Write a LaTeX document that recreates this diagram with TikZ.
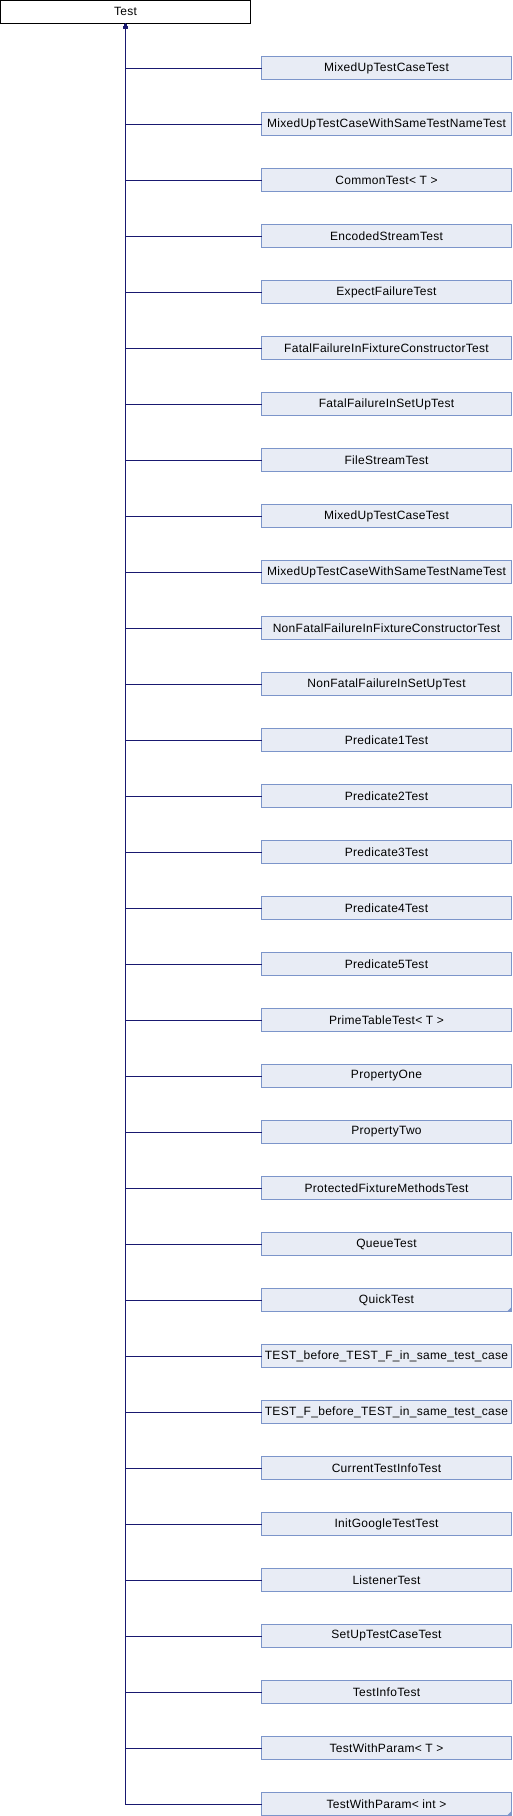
\documentclass[tikz,border=0pt]{standalone}
\usepackage{fontspec}
\setmainfont[LetterSpace=2.5]{Liberation Sans}
\usepackage{tikz}
\usetikzlibrary{positioning, arrows.meta}

\definecolor{boxfill}{HTML}{E8ECF5}
\definecolor{boxline}{HTML}{7C95CA}
\definecolor{edgeblue}{HTML}{191970}

\begin{document}
\begin{tikzpicture}[
    node distance=33pt,
    box/.style={rectangle, draw, line width=1pt, minimum width=250pt, minimum height=23pt, inner sep=0pt, outer sep=0pt, font=\fontsize{12pt}{14pt}\selectfont},
    root/.style={box, draw=black, fill=white},
    derived/.style={box, draw=boxline, fill=boxfill},
    arrow/.style={-{Triangle[length=5pt, width=4.5pt]}, line width=1pt, draw=edgeblue},
    fold/.style={fill=boxline}
]
\useasboundingbox (0,0) rectangle (512pt,-1816pt);

\node[root] (test) at (125.5pt,-11.5pt) {Test};

\node[derived] (mixedup) at (386.5pt,-68pt) {MixedUpTestCaseTest};
\node[derived] (mixedupsame) [below=of mixedup] {MixedUpTestCaseWithSameTestNameTest};
\node[derived] (common) [below=of mixedupsame] {CommonTest< T >};
\node[derived] (encoded) [below=of common] {EncodedStreamTest};
\node[derived] (expectfail) [below=of encoded] {ExpectFailureTest};
\node[derived] (fatalctor) [below=of expectfail] {FatalFailureInFixtureConstructorTest};
\node[derived] (fatalsetup) [below=of fatalctor] {FatalFailureInSetUpTest};
\node[derived] (filestream) [below=of fatalsetup] {FileStreamTest};
\node[derived] (mixedupb) [below=of filestream] {MixedUpTestCaseTest};
\node[derived] (mixedupsameb) [below=of mixedupb] {MixedUpTestCaseWithSameTestNameTest};
\node[derived] (nonfatalctor) [below=of mixedupsameb] {NonFatalFailureInFixtureConstructorTest};
\node[derived] (nonfatalsetup) [below=of nonfatalctor] {NonFatalFailureInSetUpTest};
\node[derived] (predone) [below=of nonfatalsetup] {Predicate1Test};
\node[derived] (predtwo) [below=of predone] {Predicate2Test};
\node[derived] (predthree) [below=of predtwo] {Predicate3Test};
\node[derived] (predfour) [below=of predthree] {Predicate4Test};
\node[derived] (predfive) [below=of predfour] {Predicate5Test};
\node[derived] (primetable) [below=of predfive] {PrimeTableTest< T >};
\node[derived] (propone) [below=of primetable] {PropertyOne};
\node[derived] (proptwo) [below=of propone] {PropertyTwo};
\node[derived] (protected) [below=of proptwo] {ProtectedFixtureMethodsTest};
\node[derived] (queue) [below=of protected] {QueueTest};
\node[derived] (quick) [below=of queue] {QuickTest};
\node[derived] (testbefore) [below=of quick] {TEST\_before\_TEST\_F\_in\_same\_test\_case};
\node[derived] (testfbefore) [below=of testbefore] {TEST\_F\_before\_TEST\_in\_same\_test\_case};
\node[derived] (currentinfo) [below=of testfbefore] {CurrentTestInfoTest};
\node[derived] (initgoogle) [below=of currentinfo] {InitGoogleTestTest};
\node[derived] (listener) [below=of initgoogle] {ListenerTest};
\node[derived] (setupcase) [below=of listener] {SetUpTestCaseTest};
\node[derived] (testinfo) [below=of setupcase] {TestInfoTest};
\node[derived] (paramt) [below=of testinfo] {TestWithParam< T >};
\node[derived] (paramint) [below=of paramt] {TestWithParam< int >};

% truncated markers
\fill[fold] (quick.south east) -- ++(-4.5pt,0) -- ++(4.5pt,4.5pt) -- cycle;
\fill[fold] (paramint.south east) -- ++(-4.5pt,0) -- ++(4.5pt,4.5pt) -- cycle;

\draw[arrow] (mixedup.west) -| (test.south);
\draw[arrow] (mixedupsame.west) -| (test.south);
\draw[arrow] (common.west) -| (test.south);
\draw[arrow] (encoded.west) -| (test.south);
\draw[arrow] (expectfail.west) -| (test.south);
\draw[arrow] (fatalctor.west) -| (test.south);
\draw[arrow] (fatalsetup.west) -| (test.south);
\draw[arrow] (filestream.west) -| (test.south);
\draw[arrow] (mixedupb.west) -| (test.south);
\draw[arrow] (mixedupsameb.west) -| (test.south);
\draw[arrow] (nonfatalctor.west) -| (test.south);
\draw[arrow] (nonfatalsetup.west) -| (test.south);
\draw[arrow] (predone.west) -| (test.south);
\draw[arrow] (predtwo.west) -| (test.south);
\draw[arrow] (predthree.west) -| (test.south);
\draw[arrow] (predfour.west) -| (test.south);
\draw[arrow] (predfive.west) -| (test.south);
\draw[arrow] (primetable.west) -| (test.south);
\draw[arrow] (propone.west) -| (test.south);
\draw[arrow] (proptwo.west) -| (test.south);
\draw[arrow] (protected.west) -| (test.south);
\draw[arrow] (queue.west) -| (test.south);
\draw[arrow] (quick.west) -| (test.south);
\draw[arrow] (testbefore.west) -| (test.south);
\draw[arrow] (testfbefore.west) -| (test.south);
\draw[arrow] (currentinfo.west) -| (test.south);
\draw[arrow] (initgoogle.west) -| (test.south);
\draw[arrow] (listener.west) -| (test.south);
\draw[arrow] (setupcase.west) -| (test.south);
\draw[arrow] (testinfo.west) -| (test.south);
\draw[arrow] (paramt.west) -| (test.south);
\draw[arrow] (paramint.west) -| (test.south);

\end{tikzpicture}
\end{document}
